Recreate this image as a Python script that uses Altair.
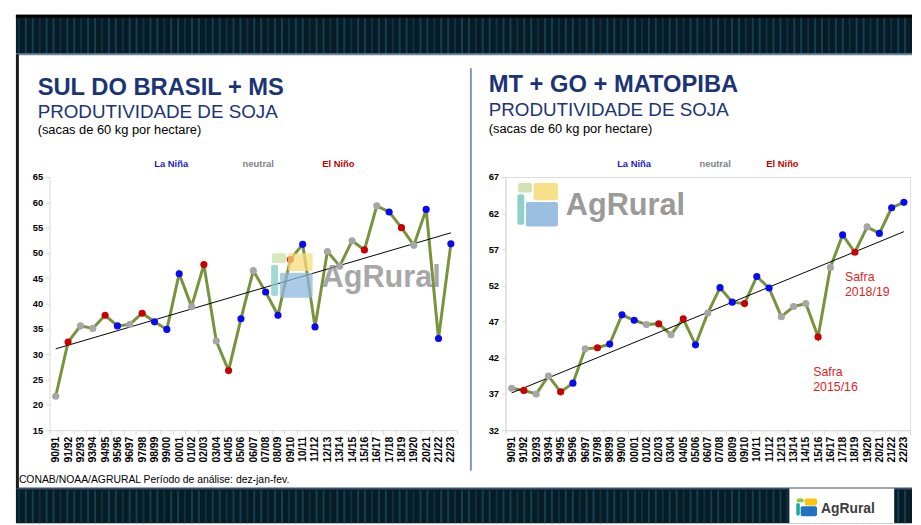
import altair as alt
import numpy as np
import pandas as pd

# ---------------- data ----------------
SEASONS = ["90/91", "91/92", "92/93", "93/94", "94/95", "95/96", "96/97", "97/98",
           "98/99", "99/00", "00/01", "01/02", "02/03", "03/04", "04/05", "05/06",
           "06/07", "07/08", "08/09", "09/10", "10/11", "11/12", "12/13", "13/14",
           "14/15", "15/16", "16/17", "17/18", "18/19", "19/20", "20/21", "21/22", "22/23"]

PHASE = ["neutral", "El Niño", "neutral", "neutral", "El Niño", "La Niña", "neutral", "El Niño",
         "La Niña", "La Niña", "La Niña", "neutral", "El Niño", "neutral", "El Niño", "La Niña",
         "neutral", "La Niña", "La Niña", "El Niño", "La Niña", "La Niña", "neutral", "neutral",
         "neutral", "El Niño", "neutral", "La Niña", "El Niño", "neutral", "La Niña", "La Niña", "La Niña"]

SUL_MS = [21.7, 32.4, 35.6, 35.1, 37.7, 35.6, 35.9, 38.1, 36.4, 34.9, 45.9, 39.4, 47.7,
          32.6, 26.8, 37.0, 46.5, 42.3, 37.7, 48.7, 51.7, 35.4, 50.3, 47.4, 52.4, 50.6,
          59.3, 58.1, 55.0, 51.5, 58.6, 33.1, 51.8]

MT_GO_MATOPIBA = [37.8, 37.5, 37.0, 39.5, 37.3, 38.5, 43.25, 43.4, 43.9, 47.95, 47.2, 46.6,
                  46.7, 45.2, 47.4, 43.8, 48.2, 51.7, 49.7, 49.5, 53.25, 51.65, 47.7, 49.1,
                  49.5, 44.9, 54.5, 59.0, 56.6, 60.1, 59.2, 62.75, 63.5]

PHASES = ["La Niña", "neutral", "El Niño"]
PHASE_COLORS = ["#0a0af0", "#a6a6a6", "#c80000"]

Y_TICKS_SUL = [15, 20, 25, 30, 35, 40, 45, 50, 55, 60, 65]
Y_TICKS_MT = [32, 37, 42, 47, 52, 57, 62, 67]

ANNOT_SEASONS = ["18/19", "15/16"]
ANNOT_VALUES = [53.2, 40.1]
ANNOT_TEXT = ["Safra\n2018/19", "Safra\n2015/16"]
ANNOT_DX = [-10, -5]

FONT = "Liberation Sans"
NAVY = "#1b3475"
W_L, W_R, H = 412, 409, 256
OXL, OYL = 49, 175      # page position of left plot origin
OXR, OYR = 510, 175     # page position of right plot origin

ONE = pd.DataFrame({"a": [0]})


def T(s, x, y, size, color, ox, oy, weight="normal", align="left",
      baseline="alphabetic", font=FONT, opacity=1.0):
    return alt.Chart(ONE).mark_text(
        text=s, align=align, baseline=baseline, fontSize=size, fontWeight=weight,
        color=color, font=font, opacity=opacity
    ).encode(x=alt.value(x - ox), y=alt.value(y - oy))


def R(x0, y0, x1, y1, color, ox, oy, opacity=1.0, corner=0):
    return alt.Chart(ONE).mark_rect(
        color=color, opacity=opacity, cornerRadius=corner
    ).encode(x=alt.value(x0 - ox), x2=alt.value(x1 - ox),
             y=alt.value(y0 - oy), y2=alt.value(y1 - oy))


def icon(x0, y0, x1, y1, cols, ox, oy, opacity=1.0):
    w, h = x1 - x0, y1 - y0
    g, yl, t, b = cols
    return [
        R(x0 + 0.02 * w, y0, x0 + 0.36 * w, y0 + 0.22 * h, g, ox, oy, opacity, 2),
        R(x0 + 0.40 * w, y0, x1, y0 + 0.40 * h, yl, ox, oy, opacity, 2),
        R(x0, y0 + 0.26 * h, x0 + 0.17 * w, y1 - 0.04 * h, t, ox, oy, opacity, 2),
        R(x0 + 0.21 * w, y0 + 0.44 * h, x1, y1, b, ox, oy, opacity, 2),
    ]


def panel(values, yticks, width, ox, oy):
    df = pd.DataFrame({"season": SEASONS, "value": values, "phase": PHASE})
    idx = np.arange(len(values))
    slope, inter = np.polyfit(idx, np.array(values), 1)
    tr = pd.DataFrame({"season": [SEASONS[0], SEASONS[-1]],
                       "value": [inter, inter + slope * idx[-1]]})
    xenc = alt.X("season:O", sort=SEASONS,
                 scale=alt.Scale(type="band", paddingInner=0, paddingOuter=0),
                 axis=alt.Axis(title=None, labelAngle=270, labelFont=FONT,
                               labelFontWeight="bold", labelFontSize=10.5,
                               labelColor="#000000", domainColor="#d9d9d9",
                               tickColor="#d9d9d9", tickSize=4, tickBand="extent",
                               labelPadding=2, labelOverlap=False, grid=False, zindex=2))
    yenc = alt.Y("value:Q",
                 scale=alt.Scale(domain=[yticks[0], yticks[-1]], nice=False, zero=False),
                 axis=alt.Axis(title=None, values=yticks, tickCount=len(yticks) + 2,
                               labelFont=FONT,
                               labelFontWeight="bold", labelFontSize=9.5,
                               labelColor="#000000", domainColor="#d9d9d9",
                               tickColor="#d9d9d9", tickSize=4, labelPadding=3,
                               labelOverlap=False, grid=False, zindex=2))
    line = alt.Chart(df).mark_line(color="#77933c", strokeWidth=3).encode(x=xenc, y=yenc)
    trend = alt.Chart(tr).mark_line(color="#000000", strokeWidth=1).encode(
        x=alt.X("season:O", sort=SEASONS), y="value:Q")
    pts = alt.Chart(df).mark_circle(size=52, opacity=1).encode(
        x=alt.X("season:O", sort=SEASONS), y="value:Q",
        color=alt.Color("phase:N", scale=alt.Scale(domain=PHASES, range=PHASE_COLORS),
                        legend=None))
    return line, trend, pts


# ---------------- left panel decorations (page background) ----------------
decor = [R(8, 8, 921, 525, "#ffffff", OXL, OYL)]
# bands
decor.append(R(15, 11, 921, 51, "#071c25", OXL, OYL))
decor.append(R(15, 490, 921, 525, "#071c25", OXL, OYL))
stripes = pd.DataFrame({"sx": [x - OXL for x in range(18, 921, 7)]})
stripes["c"] = ["#15506b" if i % 3 else "#0f3c50" for i in range(len(stripes))]
for (y0, y1) in [(14, 50), (492, 525)]:
    decor.append(alt.Chart(stripes).mark_rule(strokeWidth=2, opacity=0.7).encode(
        x=alt.X("sx:Q", scale=None, axis=None),
        color=alt.Color("c:N", scale=None, legend=None),
        y=alt.value(y0 - OYL), y2=alt.value(y1 - OYL)))
decor.append(R(15, 11, 921, 14, "#000000", OXL, OYL))
decor.append(R(15, 50, 921, 52, "#6d84a8", OXL, OYL))
decor.append(R(15, 489, 921, 491, "#3d4f6b", OXL, OYL))
# left border and divider
decor.append(R(15, 51, 18, 490, "#1a1a1a", OXL, OYL))
decor.append(R(474, 65, 476, 472, "#8093bb", OXL, OYL))
# bottom logo box
decor.append(R(797, 490, 903, 525, "#ffffff", OXL, OYL))
decor += icon(804, 500, 825, 518, ["#8dc63f", "#fcc30b", "#19a99d", "#1f72c0"], OXL, OYL)
decor.append(T("AgRural", 829, 515, 14, "#3d3d3d", OXL, OYL, weight="bold"))
# footer
decor.append(T("CONAB/NOAA/AGRURAL  Período de análise: dez-jan-fev.", 18, 484, 10.5,
               "#000000", OXL, OYL))
# left titles
decor.append(T("SUL DO BRASIL + MS", 37, 92, 24, NAVY, OXL, OYL, weight="bold"))
decor.append(T("PRODUTIVIDADE DE SOJA", 37, 115, 19, NAVY, OXL, OYL))
decor.append(T("(sacas de 60 kg por hectare)", 37, 132, 13, "#000000", OXL, OYL))
decor.append(T("La Niña", 172, 164.5, 9.5, "#1a1ad0", OXL, OYL, weight="bold", align="center"))
decor.append(T("neutral", 260, 164.5, 9.5, "#7f7f7f", OXL, OYL, weight="bold", align="center"))
decor.append(T("El Niño", 341, 164.5, 9.5, "#c00000", OXL, OYL, weight="bold", align="center"))

l_line, l_trend, l_pts = panel(SUL_MS, Y_TICKS_SUL, W_L, OXL, OYL)
wm_left = icon(273, 252, 315, 297, ["#c9e0a8", "#f7dc7a", "#86ccc4", "#8fb8de"], OXL, OYL, 0.75)
wm_left.append(T("AgRural", 324, 286, 31, "#8a8a8a", OXL, OYL, weight="bold", opacity=0.75))

left = alt.layer(*decor, l_line, l_trend, l_pts, *wm_left).properties(width=W_L, height=H)

# ---------------- right panel ----------------
rdec = []
rdec += icon(522, 181, 563, 225, ["#cfe3b5", "#f7e08a", "#8fd0c8", "#9bbfe0"], OXR, OYR)
rdec.append(T("AgRural", 571, 213, 31, "#9a9a9a", OXR, OYR, weight="bold"))
rdec.append(T("MT + GO + MATOPIBA", 493, 89.5, 24, NAVY, OXR, OYR, weight="bold"))
rdec.append(T("PRODUTIVIDADE DE SOJA", 493, 113, 19, NAVY, OXR, OYR))
rdec.append(T("(sacas de 60 kg por hectare)", 493, 130.5, 13, "#000000", OXR, OYR))
rdec.append(T("La Niña", 640, 165, 9.5, "#1a1ad0", OXR, OYR, weight="bold", align="center"))
rdec.append(T("neutral", 722, 165, 9.5, "#7f7f7f", OXR, OYR, weight="bold", align="center"))
rdec.append(T("El Niño", 790, 165, 9.5, "#c00000", OXR, OYR, weight="bold", align="center"))

r_line, r_trend, r_pts = panel(MT_GO_MATOPIBA, Y_TICKS_MT, W_R, OXR, OYR)
ann = pd.DataFrame({"season": ANNOT_SEASONS, "value": ANNOT_VALUES,
                    "text": ANNOT_TEXT, "dx": ANNOT_DX})
ann_layers = []
for i in range(len(ann)):
    ann_layers.append(alt.Chart(ann.iloc[[i]]).mark_text(
        align="left", baseline="middle", fontSize=12.5, font=FONT, color="#dd1f26",
        lineBreak="\n", lineHeight=15.5, dx=int(ANNOT_DX[i])
    ).encode(x=alt.X("season:O", sort=SEASONS), y="value:Q", text="text:N"))

right = alt.layer(*rdec, r_line, r_trend, r_pts, *ann_layers).properties(width=W_R, height=H)

chart = alt.hconcat(left, right, spacing=OXR - OXL - W_L, bounds="flush").properties(
    padding={"left": 0, "top": 0, "right": 0, "bottom": 0}
).configure_view(stroke=None).configure(background="#ffffff")

chart.save("out.html", embed_options={"renderer": "svg", "actions": False})
